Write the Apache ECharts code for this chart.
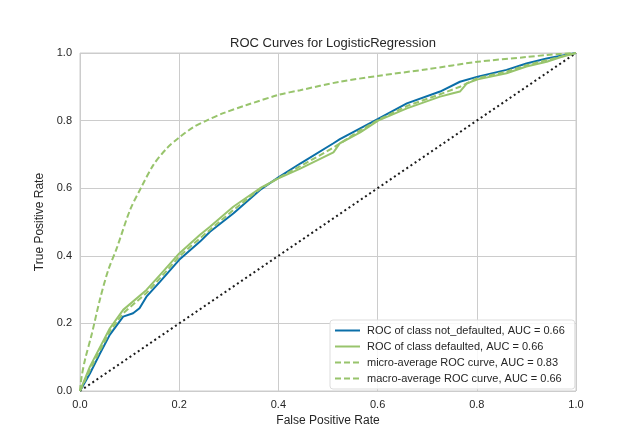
<!DOCTYPE html>
<html>
<head>
<meta charset="utf-8">
<script src="https://cdn.jsdelivr.net/npm/echarts@6/dist/echarts.min.js"></script>
<style>
  html, body { margin: 0; padding: 0; background: #fff; }
  #roc { width: 640px; height: 440px; }
</style>
</head>
<body>
<div id="roc"></div>
<script>
// roc curve points
var fprNotDefaulted = [0, 0.02, 0.04, 0.06, 0.087, 0.107, 0.12, 0.134, 0.161, 0.2, 0.242, 0.262, 0.309, 0.363, 0.4, 0.444, 0.511, 0.524, 0.565, 0.601, 0.659, 0.726, 0.766, 0.802, 0.86, 0.9, 0.941, 0.97, 1];
var tprNotDefaulted = [0, 0.052, 0.11, 0.166, 0.22, 0.23, 0.245, 0.279, 0.323, 0.388, 0.442, 0.471, 0.525, 0.595, 0.632, 0.673, 0.733, 0.745, 0.777, 0.805, 0.851, 0.886, 0.915, 0.93, 0.95, 0.969, 0.984, 0.992, 1];

var fprDefaulted = [0, 0.02, 0.06, 0.087, 0.134, 0.161, 0.2, 0.242, 0.262, 0.309, 0.363, 0.4, 0.444, 0.511, 0.524, 0.565, 0.601, 0.659, 0.726, 0.75, 0.766, 0.78, 0.802, 0.86, 0.9, 0.941, 0.97, 1];
var tprDefaulted = [0, 0.072, 0.185, 0.24, 0.299, 0.343, 0.407, 0.462, 0.486, 0.545, 0.6, 0.629, 0.658, 0.706, 0.733, 0.765, 0.8, 0.836, 0.871, 0.88, 0.886, 0.91, 0.922, 0.94, 0.96, 0.974, 0.988, 1];

var fprMicro = [0, 0.003, 0.01, 0.024, 0.04, 0.057, 0.074, 0.101, 0.124, 0.148, 0.175, 0.2, 0.228, 0.255, 0.289, 0.336, 0.4, 0.444, 0.524, 0.6, 0.7, 0.802, 0.9, 0.941, 1];
var tprMicro = [0, 0.04, 0.092, 0.17, 0.27, 0.358, 0.422, 0.536, 0.604, 0.669, 0.718, 0.75, 0.78, 0.8, 0.822, 0.846, 0.876, 0.89, 0.915, 0.932, 0.952, 0.974, 0.988, 0.994, 1];

var fprMacro = [0, 0.02, 0.06, 0.087, 0.134, 0.161, 0.2, 0.242, 0.309, 0.363, 0.4, 0.444, 0.511, 0.565, 0.601, 0.659, 0.726, 0.766, 0.802, 0.86, 0.9, 0.941, 1];
var tprMacro = [0, 0.062, 0.176, 0.23, 0.29, 0.333, 0.398, 0.452, 0.535, 0.598, 0.63, 0.665, 0.72, 0.771, 0.802, 0.843, 0.878, 0.9, 0.926, 0.945, 0.964, 0.979, 1];

var fprChance = [0, 1];
var tprChance = [0, 1];

var seriesNames = [
  "ROC of class not_defaulted, AUC = 0.66",
  "ROC of class defaulted, AUC = 0.66",
  "micro-average ROC curve, AUC = 0.83",
  "macro-average ROC curve, AUC = 0.66"
];

var blue = "#0b6fa8";
var green = "#98c46c";
var font = "Liberation Sans, Arial, sans-serif";

function pairs(xs, ys) {
  var out = [];
  for (var i = 0; i < xs.length; i++) out.push([xs[i], ys[i]]);
  return out;
}

function curve(name, xs, ys, color, type, smooth) {
  return {
    name: name,
    type: "line",
    data: pairs(xs, ys),
    symbol: "none",
    smooth: smooth || false,
    lineStyle: { color: color, width: 2, type: type },
    itemStyle: { color: color },
    z: 3
  };
}

var chart = echarts.init(document.getElementById("roc"), null, { renderer: "canvas" });

chart.setOption({
  backgroundColor: "#fff",
  animation: false,
  textStyle: { fontFamily: font },
  title: {
    text: "ROC Curves for LogisticRegression",
    left: 328,
    top: 32,
    textAlign: "center",
    textStyle: { fontSize: 13, fontWeight: "normal", color: "#262626", fontFamily: font }
  },
  grid: {
    left: 80, right: 64, top: 53, bottom: 49,
    show: true, borderColor: "#cccccc", borderWidth: 1
  },
  legend: {
    data: seriesNames,
    orient: "vertical",
    left: 330,
    top: 320,
    itemWidth: 25,
    itemHeight: 10,
    itemGap: 5,
    padding: [5, 10, 5, 4],
    backgroundColor: "rgba(255,255,255,0.85)",
    borderColor: "#dddddd",
    borderWidth: 1,
    borderRadius: 3,
    itemStyle: { opacity: 0 },
    textStyle: { fontSize: 11, color: "#262626", fontFamily: font, padding: [0, 0, 0, 2] }
  },
  xAxis: {
    type: "value",
    min: 0, max: 1, interval: 0.2,
    name: "False Positive Rate",
    nameLocation: "middle",
    nameGap: 22,
    nameTextStyle: { fontSize: 12, color: "#262626" },
    axisLine: { show: false },
    axisTick: { show: false },
    axisLabel: { fontSize: 11, color: "#262626", margin: 8, formatter: function (v) { return v.toFixed(1); } },
    splitLine: { show: true, lineStyle: { color: "#cccccc", width: 1 } }
  },
  yAxis: {
    type: "value",
    min: 0, max: 1, interval: 0.2,
    name: "True Positive Rate",
    nameLocation: "middle",
    nameGap: 26,
    nameTextStyle: { fontSize: 12, color: "#262626" },
    axisLine: { show: false },
    axisTick: { show: false },
    axisLabel: { fontSize: 11, color: "#262626", margin: 8, formatter: function (v) { return v.toFixed(1); } },
    splitLine: { show: true, lineStyle: { color: "#cccccc", width: 1 } }
  },
  series: [
    curve(seriesNames[0], fprNotDefaulted, tprNotDefaulted, blue, "solid"),
    curve(seriesNames[1], fprDefaulted, tprDefaulted, green, "solid"),
    curve(seriesNames[2], fprMicro, tprMicro, green, [6, 3], 0.3),
    curve(seriesNames[3], fprMacro, tprMacro, green, [6, 3]),
    {
      name: "chance",
      type: "line",
      data: pairs(fprChance, tprChance),
      symbol: "none",
      lineStyle: { color: "#1a1a1a", width: 2, type: [2, 3] },
      z: 2
    }
  ]
});
</script>
</body>
</html>
